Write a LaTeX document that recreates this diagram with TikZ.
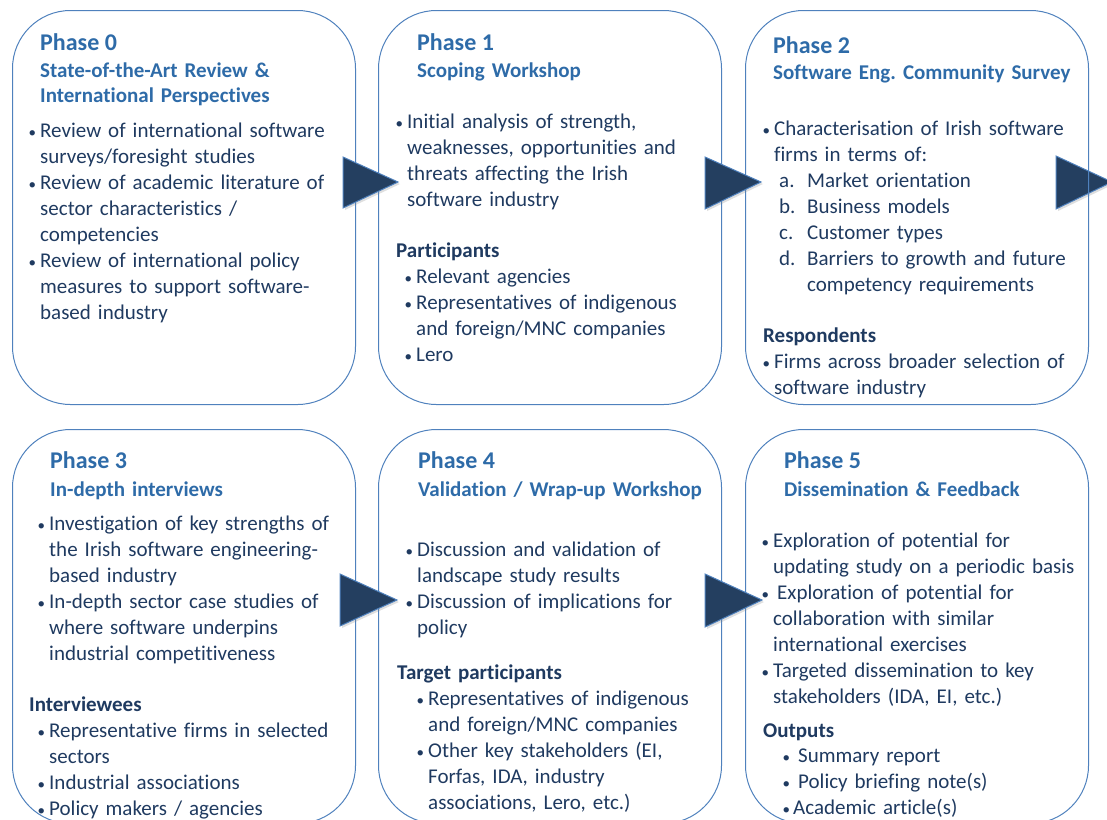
\documentclass[tikz,border=0pt]{standalone}
\usepackage{fontspec}
\setmainfont[RawFeature={-liga;-calt}]{Carlito}
\usepackage{xcolor}
\usetikzlibrary{shadows}

\definecolor{boxblue}{HTML}{4F81BD}
\definecolor{titleblue}{HTML}{2E6BA8}
\definecolor{textnavy}{HTML}{1F3A60}
\definecolor{arrownavy}{HTML}{243F60}

\setlength{\parindent}{0pt}
\newcommand{\bul}[1][4pt]{\leavevmode\llap{{\fontsize{15}{15}\selectfont\textbullet}\hspace{#1}}}
\newcommand{\enumlabel}[1]{\leavevmode\llap{\makebox[28pt][l]{#1}}}

\begin{document}
\begin{tikzpicture}[x=1pt,y=-1pt,
    phasebox/.style={draw=boxblue, line width=1pt, rounded corners=58pt, anchor=north west,
      minimum width=343pt, minimum height=394pt, inner sep=0pt},
    phasetitle/.style={anchor=base west, inner sep=0pt, text=titleblue,
      font=\fontsize{24}{26}\selectfont\bfseries},
    subtitle/.style={anchor=base west, inner sep=0pt, text=titleblue, text width=330pt,
      align=left, font=\fontsize{21}{25}\selectfont\bfseries},
    bodytext/.style={anchor=base west, inner sep=0pt, text=textnavy, text width=330pt,
      align=left, font=\fontsize{21}{26}\selectfont},
    heading/.style={bodytext, font=\fontsize{21}{26}\selectfont\bfseries},
    tri/.style={fill=arrownavy, draw=boxblue, line width=1pt, line join=miter,
      drop shadow={shadow xshift=2pt, shadow yshift=-2pt, opacity=.25}}]
    \useasboundingbox (0,0) rectangle (1107,819);

    % arrow behind phase 2
    \filldraw[tri] (1056,156) -- (1112,182) -- (1056,209) -- cycle;

    % phase boxes
    \node[phasebox] (ph0) at (12,10) {};
    \node[phasebox] (ph1) at (378,10) {};
    \node[phasebox] (ph2) at (745,10) {};
    \node[phasebox] (ph3) at (12,429) {};
    \node[phasebox] (ph4) at (378,429) {};
    \node[phasebox] (ph5) at (745,429) {};

    % arrows between phases
    \filldraw[tri] (343,157) -- (398,182) -- (343,208) -- cycle;
    \filldraw[tri] (705,157) -- (761,182) -- (705,209) -- cycle;
    \filldraw[tri] (340,574) -- (397,600) -- (340,626) -- cycle;
    \filldraw[tri] (705,574) -- (762,600) -- (705,627) -- cycle;

    % phase 0
    \node[phasetitle] (t0) at (40,50) {Phase 0};
    \node[subtitle] (s0) at (40,77) {State-of-the-Art Review \&\\International Perspectives};
    \node[bodytext] (b0) at (40,137) {\bul Review of international software\\
      surveys/foresight studies\\
      \bul Review of academic literature of\\
      sector characteristics /\\
      competencies\\
      \bul Review of international policy\\
      measures to support software-\\
      based industry};

    % phase 1
    \node[phasetitle] (t1) at (417,50) {Phase 1};
    \node[subtitle] (s1) at (417,77) {Scoping Workshop};
    \node[bodytext] (b1) at (407,128) {\bul Initial analysis of strength,\\
      weaknesses, opportunities and\\
      threats affecting the Irish\\
      software industry};
    \node[heading] (h1) at (396,257) {Participants};
    \node[bodytext] (l1) at (416,283) {\bul Relevant agencies\\
      \bul Representatives of indigenous\\
      and foreign/MNC companies\\
      \bul Lero};

    % phase 2
    \node[phasetitle] (t2) at (773,53) {Phase 2};
    \node[subtitle] (s2) at (773,79) {Software Eng.\ Community Survey};
    \node[bodytext] (b2) at (774,135) {\bul Characterisation of Irish software\\
      firms in terms of:};
    \node[bodytext] (l2) at (807,187) {\enumlabel{a.}Market orientation\\
      \enumlabel{b.}Business models\\
      \enumlabel{c.}Customer types\\
      \enumlabel{d.}Barriers to growth and future\\
      competency requirements};
    \node[heading] (h2) at (763,342) {Respondents};
    \node[bodytext] (r2) at (774,368) {\bul Firms across broader selection of\\
      software industry};

    % phase 3
    \node[phasetitle] (t3) at (50,468) {Phase 3};
    \node[subtitle] (s3) at (50,496) {In-depth interviews};
    \node[bodytext] (b3) at (49,530) {\bul Investigation of key strengths of\\
      the Irish software engineering-\\
      based industry\\
      \bul In-depth sector case studies of\\
      where software underpins\\
      industrial competitiveness};
    \node[heading] (h3) at (29,711) {Interviewees};
    \node[bodytext] (l3) at (49,737) {\bul Representative firms in selected\\
      sectors\\
      \bul Industrial associations\\
      \bul Policy makers / agencies};

    % phase 4
    \node[phasetitle] (t4) at (418,468) {Phase 4};
    \node[subtitle] (s4) at (418,496) {Validation / Wrap-up Workshop};
    \node[bodytext] (b4) at (417,556) {\bul Discussion and validation of\\
      landscape study results\\
      \bul Discussion of implications for\\
      policy};
    \node[heading] (h4) at (397,679) {Target participants};
    \node[bodytext] (l4) at (428,705) {\bul Representatives of indigenous\\
      and foreign/MNC companies\\
      \bul Other key stakeholders (EI,\\
      Forfas, IDA, industry\\
      associations, Lero, etc.)};

    % phase 5
    \node[phasetitle] (t5) at (784,468) {Phase 5};
    \node[subtitle] (s5) at (784,496) {Dissemination \& Feedback};
    \node[bodytext] (b5) at (773,547) {\bul Exploration of potential for\\
      updating study on a periodic basis\\
      \bul\hspace{4pt}Exploration of potential for\\
      collaboration with similar\\
      international exercises\\
      \bul Targeted dissemination to key\\
      stakeholders (IDA, EI, etc.)};
    \node[heading] (h5) at (763,737) {Outputs};
    \node[bodytext] (l5) at (798,762) {\bul[8pt]Summary report\\
      \bul[8pt]Policy briefing note(s)\\
      \hspace*{-5pt}\bul[3pt]Academic article(s)};
\end{tikzpicture}
\end{document}
